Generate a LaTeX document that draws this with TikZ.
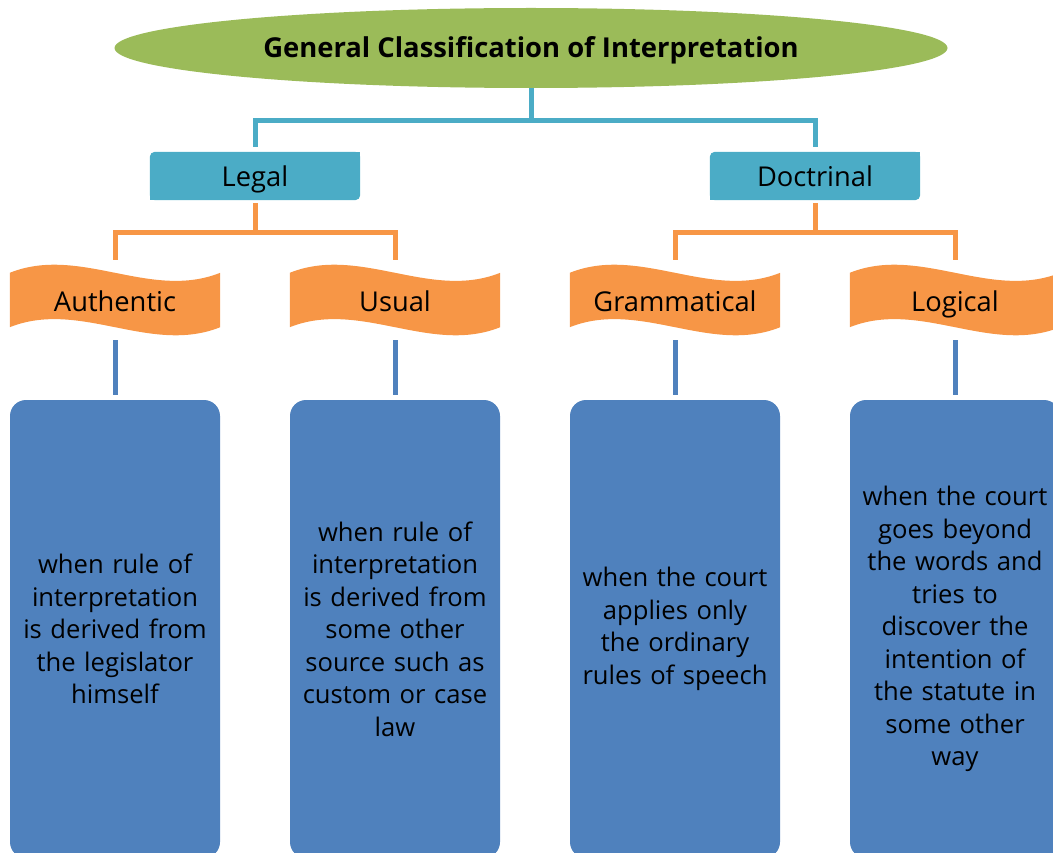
\documentclass[tikz,border=0pt]{standalone}
\usepackage{fontspec}
\setmainfont{Open Sans}
\usetikzlibrary{shapes.geometric}
\usetikzlibrary{backgrounds}
\definecolor{titleGreen}{HTML}{9BBB59}
\definecolor{catTeal}{HTML}{4BACC6}
\definecolor{typeOrange}{HTML}{F79646}
\definecolor{descBlue}{HTML}{4F81BD}

\begin{document}
\begin{tikzpicture}[x=1pt, y=-1pt]
               \tikzstyle{myTitle}=[ellipse, fill=titleGreen, minimum width=833pt, minimum height=80pt, inner sep=0pt, text height=25.6pt, text depth=6pt, font=\fontsize{27.4}{32}\selectfont\bfseries]
               \tikzstyle{myCat}=[rectangle, minimum width=210pt, minimum height=48pt, inner sep=0pt, text height=25.6pt, text depth=5pt, font=\fontsize{27.3}{32}\selectfont]
               \tikzstyle{myType}=[rectangle, minimum width=210pt, minimum height=54pt, inner sep=0pt, text height=25.6pt, text depth=2pt, font=\fontsize{27.3}{32}\selectfont]
               \tikzstyle{myDesc}=[rectangle, rounded corners=16pt, fill=descBlue, minimum width=210pt, minimum height=458pt, text width=206pt, align=center, inner sep=0pt, font=\fontsize{25.6}{32.5}\selectfont]
               \tikzstyle{myTeal}=[draw=catTeal, line width=5pt]
               \tikzstyle{myOrange}=[draw=typeOrange, line width=5pt, shorten <=3pt, shorten >=13pt]
               \tikzstyle{myBlue}=[draw=descBlue, line width=5pt, shorten <=13pt, shorten >=5pt]

               \useasboundingbox (0,0) rectangle (1053,853);

               \node[myTitle] (title) at (531,48) {General Classification of Interpretation};

               \node[myCat] (legal) at (255,176) {Legal};
               \node[myCat] (doctrinal) at (815,176) {Doctrinal};

               \node[myType] (authentic) at (115,300) {Authentic};
               \node[myType] (usual) at (395,300) {Usual};
               \node[myType] (grammatical) at (675,300) {Grammatical};
               \node[myType] (logical) at (955,300) {Logical};

               \node[myDesc] (authenticDesc) at (115,629) {when rule of\\interpretation\\is derived from\\the legislator\\himself};
               \node[myDesc] (usualDesc) at (395,629) {when rule of\\interpretation\\is derived from\\some other\\source such as\\custom or case\\law};
               \node[myDesc] (grammaticalDesc) at (675,629) {when the court\\applies only\\the ordinary\\rules of speech};
               \node[myDesc] (logicalDesc) at (955,629) {when the court\\goes beyond\\the words and\\tries to\\discover the\\intention of\\the statute in\\some other\\way};

               % boxes behind the labels
               \begin{pgfonlayer}{background}
                    \foreach \n in {legal, doctrinal} {
                         \fill[catTeal, rounded corners=5pt] (\n.south west) rectangle (\n.north east);
                         \fill[catTeal] (\n.south west) rectangle (\n.center);
                         \fill[catTeal] (\n.north east) rectangle (\n.center);
                    }
                    \foreach \n in {authentic, usual, grammatical, logical}
                         \fill[typeOrange] (\n.north west) .. controls +(70,-28) and +(-70,28) .. (\n.north east)
                              -- (\n.south east) .. controls +(-70,28) and +(70,-28) .. (\n.south west) -- cycle;
               \end{pgfonlayer}

               \draw[myTeal] (title.south) -- ++(0,32) -| ([yshift=5pt]legal.north);
               \draw[myTeal] (title.south) -- ++(0,32) -| ([yshift=5pt]doctrinal.north);

               \draw[myOrange] (legal.south) -- ++(0,32) -| (authentic.north);
               \draw[myOrange] (legal.south) -- ++(0,32) -| (usual.north);
               \draw[myOrange] (doctrinal.south) -- ++(0,32) -| (grammatical.north);
               \draw[myOrange] (doctrinal.south) -- ++(0,32) -| (logical.north);

               \draw[myBlue] (authentic.south) -- (authenticDesc.north);
               \draw[myBlue] (usual.south) -- (usualDesc.north);
               \draw[myBlue] (grammatical.south) -- (grammaticalDesc.north);
               \draw[myBlue] (logical.south) -- (logicalDesc.north);
            \end{tikzpicture}
\end{document}
